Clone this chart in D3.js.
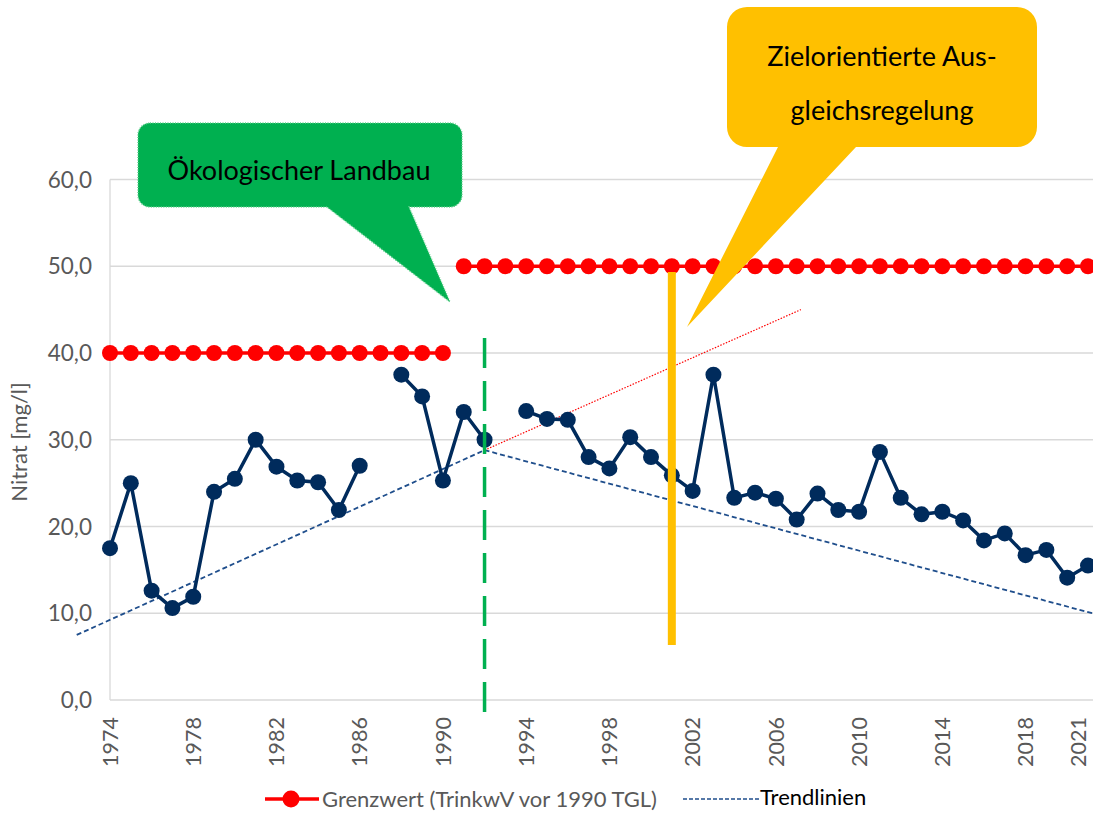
<!DOCTYPE html>
<html lang="de">
<head>
<meta charset="utf-8">
<script src="https://d3js.org/d3.v7.min.js"></script>
<style>
  body { margin: 0; background: #fff; }
  svg { display: block; font-family: Lato, "Noto Sans", sans-serif; }
</style>
</head>
<body>
<svg width="1093" height="816"></svg>
<script>
// Nitrat-Messwerte je Jahr (null = kein Wert)
var jahre = [1974, 1975, 1976, 1977, 1978, 1979, 1980, 1981, 1982, 1983, 1984, 1985, 1986, 1987,
  1988, 1989, 1990, 1991, 1992, 1993, 1994, 1995, 1996, 1997, 1998, 1999, 2000, 2001, 2002, 2003,
  2004, 2005, 2006, 2007, 2008, 2009, 2010, 2011, 2012, 2013, 2014, 2015, 2016, 2017, 2018, 2019,
  2020, 2021];
var nitrat = [17.5, 25.0, 12.6, 10.6, 11.9, 24.0, 25.5, 30.0, 26.9, 25.3, 25.1, 21.9, 27.0, null,
  37.5, 35.0, 25.3, 33.2, 30.0, null, 33.3, 32.4, 32.3, 28.0, 26.7, 30.3, 28.0, 25.9, 24.1, 37.5,
  23.3, 23.9, 23.2, 20.8, 23.8, 21.9, 21.7, 28.6, 23.3, 21.4, 21.7, 20.7, 18.4, 19.2, 16.7, 17.3,
  14.1, 15.5];

// Grenzwerte: TGL bis 1990, TrinkwV ab 1991
var grenzTGL = [40, 40, 40, 40, 40, 40, 40, 40, 40, 40, 40, 40, 40, 40, 40, 40, 40];
var grenzTrinkwV = [50, 50, 50, 50, 50, 50, 50, 50, 50, 50, 50, 50, 50, 50, 50, 50, 50, 50, 50, 50,
  50, 50, 50, 50, 50, 50, 50, 50, 50, 50, 50];

// Trendlinien (Jahr, Wert)
var trendVorJahre = [1972.4, 1992], trendVorWerte = [7.5, 28.8];
var trendFortJahre = [1992, 2007.2], trendFortWerte = [28.8, 45.0];
var trendNachJahre = [1992, 2021.2], trendNachWerte = [28.8, 10.0];

// Ereignisse
var jahrOeko = 1992, jahrAusgleich = 2001;

var yTicks = [0, 10, 20, 30, 40, 50, 60];
var xTicks = [1974, 1978, 1982, 1986, 1990, 1994, 1998, 2002, 2006, 2010, 2014, 2018, 2021];

var svg = d3.select("svg");
var x = d3.scaleLinear().domain([1974, 2021]).range([110, 1088]);
var y = d3.scaleLinear().domain([0, 60]).range([700, 179.5]);
var fmt = function(d) { return d3.format(".1f")(d).replace(".", ","); };

// Gitterlinien
svg.append("g")
  .selectAll("line").data(yTicks).enter().append("line")
  .attr("x1", 110).attr("x2", 1093)
  .attr("y1", function(d) { return y(d); }).attr("y2", function(d) { return y(d); })
  .attr("stroke", "#d9d9d9").attr("stroke-width", 1.3);
svg.append("line").attr("x1", 110).attr("x2", 110).attr("y1", y(60)).attr("y2", y(0))
  .attr("stroke", "#d9d9d9").attr("stroke-width", 1.3);

// y-Achse
svg.append("g").selectAll("text").data(yTicks).enter().append("text")
  .attr("x", 92).attr("y", function(d) { return y(d); }).attr("dy", "0.36em")
  .attr("text-anchor", "end").attr("fill", "#595959").attr("font-size", 22.5)
  .text(fmt);
svg.append("text").attr("transform", "translate(27,442) rotate(-90)")
  .attr("text-anchor", "middle").attr("fill", "#595959").attr("font-size", 22)
  .text("Nitrat [mg/l]");

// x-Achse (letzte Beschriftung leicht nach innen, damit sie nicht abgeschnitten wird)
svg.append("g").selectAll("text").data(xTicks).enter().append("text")
  .attr("transform", function(d) { return "translate(" + Math.min(x(d), 1078) + ",717) rotate(-90)"; })
  .attr("dy", "0.36em").attr("text-anchor", "end")
  .attr("fill", "#595959").attr("font-size", 21.5)
  .text(function(d) { return d; });

// Trendlinien
function trend(jj, ww) { return jj.map(function(j, i) { return [x(j), y(ww[i])]; }); }
var line = d3.line();
svg.append("path").attr("d", line(trend(trendVorJahre, trendVorWerte)))
  .attr("fill", "none").attr("stroke", "#1f4e8c").attr("stroke-width", 1.8).attr("stroke-dasharray", "5,3");
svg.append("path").attr("d", line(trend(trendNachJahre, trendNachWerte)))
  .attr("fill", "none").attr("stroke", "#1f4e8c").attr("stroke-width", 1.8).attr("stroke-dasharray", "5,3");
svg.append("path").attr("d", line(trend(trendFortJahre, trendFortWerte)))
  .attr("fill", "none").attr("stroke", "#ff0000").attr("stroke-width", 1.2).attr("stroke-dasharray", "1.5,1.5");

// Grenzwerte
function reihe(startJahr, werte) {
  return werte.map(function(v, i) { return { j: startJahr + i, v: v }; });
}
var lineJ = d3.line().defined(function(d) { return d.v != null; })
  .x(function(d) { return x(d.j); }).y(function(d) { return y(d.v); });
[reihe(1974, grenzTGL), reihe(1991, grenzTrinkwV)].forEach(function(r) {
  svg.append("path").attr("d", lineJ(r)).attr("fill", "none")
    .attr("stroke", "#ff0000").attr("stroke-width", 3.5);
  svg.append("g").selectAll("circle").data(r).enter().append("circle")
    .attr("cx", function(d) { return x(d.j); }).attr("cy", function(d) { return y(d.v); })
    .attr("r", 8).attr("fill", "#ff0000");
});

// Nitrat
var messung = jahre.map(function(j, i) { return { j: j, v: nitrat[i] }; });
svg.append("path").attr("d", lineJ(messung)).attr("fill", "none")
  .attr("stroke", "#002b5c").attr("stroke-width", 3.5);
svg.append("g").selectAll("circle").data(messung.filter(function(d) { return d.v != null; }))
  .enter().append("circle")
  .attr("cx", function(d) { return x(d.j); }).attr("cy", function(d) { return y(d.v); })
  .attr("r", 8).attr("fill", "#002b5c");

// Ereignis-Linien
svg.append("line").attr("x1", x(jahrOeko)).attr("x2", x(jahrOeko)).attr("y1", 338).attr("y2", 718)
  .attr("stroke", "#00b050").attr("stroke-width", 3.5).attr("stroke-dasharray", "30,13");
svg.append("line").attr("x1", x(jahrAusgleich)).attr("x2", x(jahrAusgleich)).attr("y1", 272).attr("y2", 645)
  .attr("stroke", "#ffc000").attr("stroke-width", 8);

// Sprechblasen
function blase(x0, y0, x1, y1, r, b0, b1, tx, ty) {
  var p = d3.path();
  p.moveTo(x0 + r, y0);
  p.lineTo(x1 - r, y0); p.arcTo(x1, y0, x1, y0 + r, r);
  p.lineTo(x1, y1 - r); p.arcTo(x1, y1, x1 - r, y1, r);
  p.lineTo(b1, y1); p.lineTo(tx, ty); p.lineTo(b0, y1);
  p.lineTo(x0 + r, y1); p.arcTo(x0, y1, x0, y1 - r, r);
  p.lineTo(x0, y0 + r); p.arcTo(x0, y0, x0 + r, y0, r);
  p.closePath();
  return p.toString();
}
svg.append("path").attr("d", blase(138, 123, 462, 207, 12, 327, 409, 450, 302))
  .attr("fill", "#00b050").attr("stroke", "#5fcf8c").attr("stroke-width", 1.5)
  .attr("stroke-dasharray", "1,1.5");
svg.append("text").attr("x", 299).attr("y", 180).attr("text-anchor", "middle")
  .attr("font-size", 27).attr("fill", "#000").text("Ökologischer Landbau");

svg.append("path").attr("d", blase(727, 7, 1037, 147, 20, 778, 856, 687, 327))
  .attr("fill", "#ffc000");
svg.append("text").attr("x", 882).attr("y", 66).attr("text-anchor", "middle")
  .attr("font-size", 27).attr("fill", "#000").text("Zielorientierte Aus-");
svg.append("text").attr("x", 882).attr("y", 120).attr("text-anchor", "middle")
  .attr("font-size", 27).attr("fill", "#000").text("gleichsregelung");

// Legende
var lg = svg.append("g");
lg.append("line").attr("x1", 265).attr("x2", 319).attr("y1", 799).attr("y2", 799)
  .attr("stroke", "#ff0000").attr("stroke-width", 3.5);
lg.append("circle").attr("cx", 291).attr("cy", 799).attr("r", 8.5).attr("fill", "#ff0000");
lg.append("text").attr("x", 322).attr("y", 799).attr("dy", "0.36em")
  .attr("font-size", 22).attr("fill", "#595959").text("Grenzwert (TrinkwV vor 1990 TGL)");
lg.append("line").attr("x1", 683).attr("x2", 760).attr("y1", 799).attr("y2", 799)
  .attr("stroke", "#1f4e8c").attr("stroke-width", 1.5).attr("stroke-dasharray", "4,2");
lg.append("text").attr("x", 760).attr("y", 797).attr("dy", "0.36em")
  .attr("font-size", 22).attr("fill", "#000").text("Trendlinien");
</script>
</body>
</html>
